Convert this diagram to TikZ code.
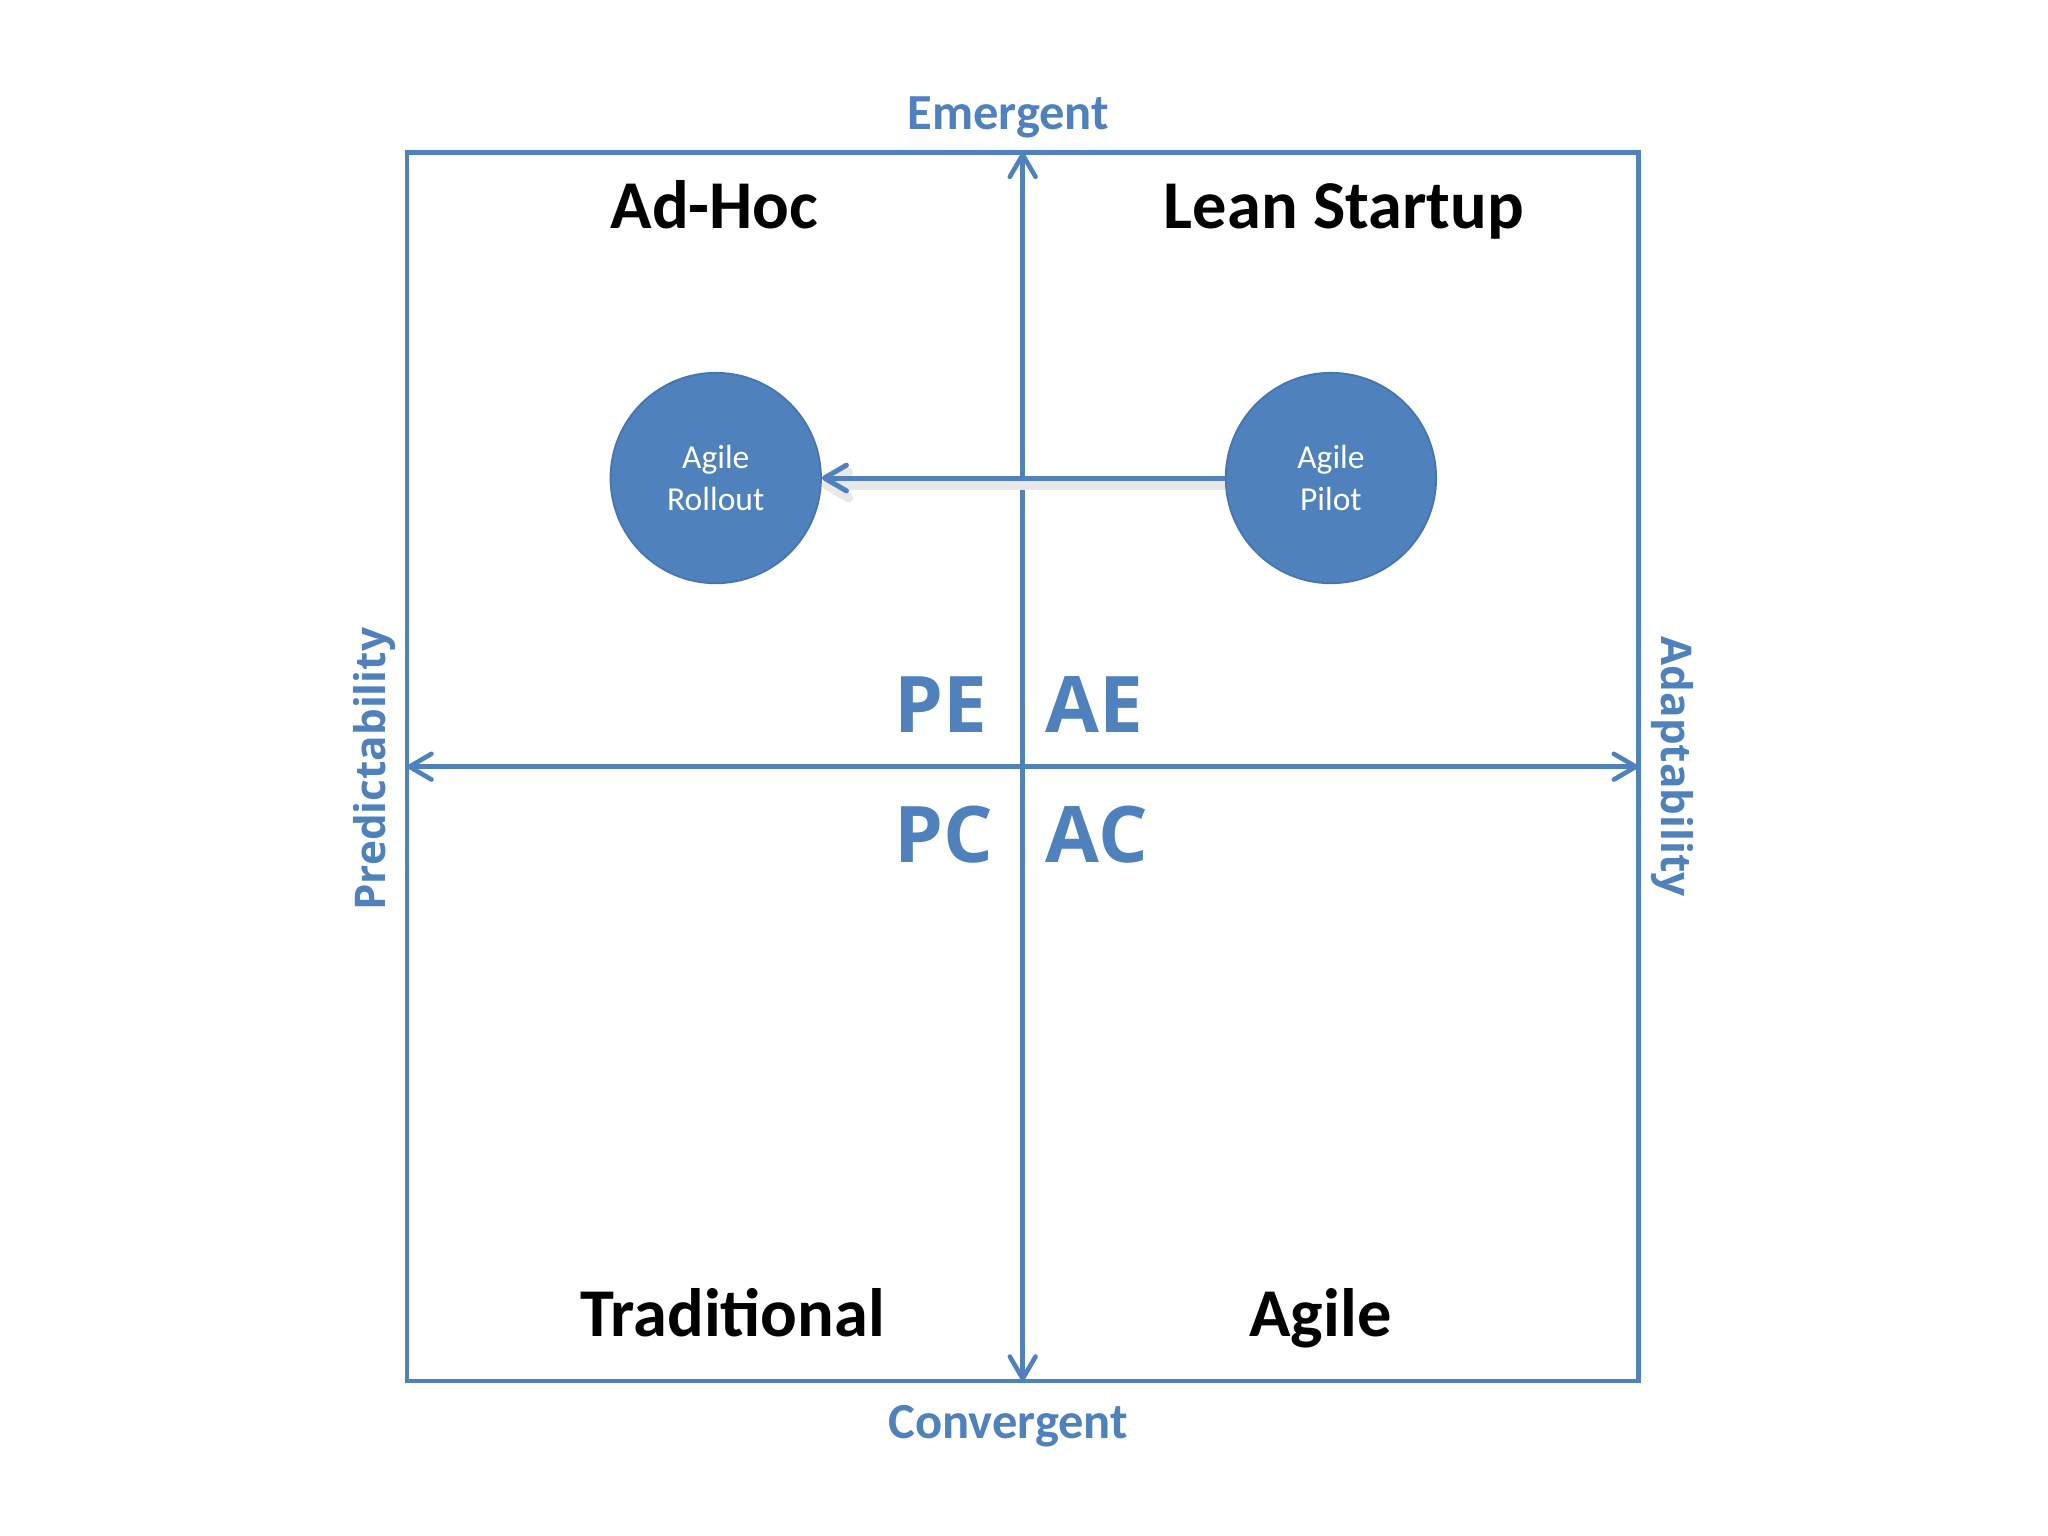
\documentclass[tikz,border=0pt]{standalone}
\usepackage{fontspec}
\setmainfont{Carlito}
\newfontfamily\opensans{Open Sans}
\usetikzlibrary{arrows.meta}
\definecolor{ablue}{HTML}{4F81BD}
\definecolor{cfill}{HTML}{4F81BD}
\definecolor{cdraw}{HTML}{4676B2}
\begin{document}
\begin{tikzpicture}[x=0.01cm,y=-0.01cm,
  axisline/.style={draw=ablue, line width=1pt,
    arrows={Straight Barb[length=4.8pt,width=5.6pt,round]-Straight Barb[length=4.8pt,width=5.6pt,round]}},
  conn/.style={draw=ablue, line width=1.1pt,
    -{Straight Barb[length=4.8pt,width=5.6pt,round]},
    preaction={draw=black!9, line width=2pt, transform canvas={yshift=-1.5pt}}},
  frame/.style={draw=ablue, line width=1pt, inner sep=0pt, outer sep=0pt,
    minimum width=9.42cm, minimum height=9.40cm},
  quad/.style={font=\bfseries\fontsize{14.9}{17}\selectfont, text=black, inner sep=0pt},
  axlabel/.style={font=\bfseries\fontsize{11}{13}\selectfont, text=ablue, inner sep=0pt},
  sidelabel/.style={font=\opensans\bfseries\fontsize{9.2}{11}\selectfont, text=ablue, inner sep=0pt},
  code/.style={font=\opensans\bfseries\fontsize{17}{20}\selectfont, text=ablue, inner sep=0pt, anchor=base west},
  phase/.style={circle, fill=cfill, draw=cdraw, line width=0.4pt, minimum size=1.61cm, inner sep=0pt,
    text=white, align=center, font=\fontsize{7.3}{9.2}\selectfont}
]
\useasboundingbox (0,0) rectangle (1568,1176);
\fill[white] (0,0) rectangle (1568,1176);

% frame
\node[frame] (box) at (783,587) {};

% axes
\draw[axisline] (box.south) -- (box.north);
\draw[axisline] (box.west) -- (box.east);

% axis labels
\node[axlabel, anchor=base] (emergent) at (772,99) {Emergent};
\node[axlabel, anchor=base] (convergent) at (772,1101) {Convergent};
\node[sidelabel, anchor=base, rotate=90] (pred) at (295,589) {Predictability};
\node[sidelabel, anchor=base, rotate=-90] (adapt) at (1272,587) {Adaptability};

% quadrant titles
\node[quad, anchor=base] (adhoc) at (547,175) {Ad-Hoc};
\node[quad, anchor=base] (lean) at (1029,175) {Lean Startup};
\node[quad, anchor=base] (trad) at (561,1023) {Traditional};
\node[quad, anchor=base] (agile) at (1011,1023) {Agile};

% codes
\node[code] (pe) at (684,561) {PE};
\node[code] (ae) at (800,561) {AE};
\node[code] (pc) at (684,660) {PC};
\node[code] (ac) at (800,660) {AC};

% circles
\node[phase] (rollout) at (548,366) {Agile\\Rollout};
\node[phase] (pilot) at (1019,366) {Agile\\Pilot};
\draw[conn] (pilot) -- (rollout);
\end{tikzpicture}
\end{document}
